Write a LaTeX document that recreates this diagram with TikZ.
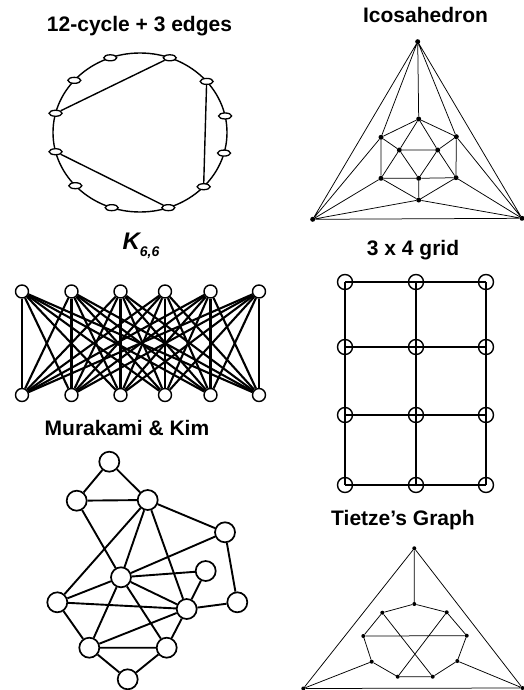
\documentclass[tikz,border=0pt]{standalone}
\usepackage{fontspec}
\setmainfont{Liberation Sans}
\usetikzlibrary{shapes.geometric}
\begin{document}
\begin{tikzpicture}[x=1pt,y=-1pt,
  title/.style={font=\bfseries\fontsize{21}{25}\selectfont, anchor=base, inner sep=0},
  cyc/.style={ellipse, draw, fill=white, line width=1.3pt, minimum width=13pt, minimum height=6pt, inner sep=0},
  dotv/.style={circle, fill=black, inner sep=0, minimum size=5pt},
  kv/.style={circle, draw, fill=white, line width=1.4pt, minimum size=13pt, inner sep=0},
  gv/.style={circle, draw, line width=1.4pt, minimum size=15pt, inner sep=0},
  mv/.style={circle, draw, fill=white, line width=1.7pt, minimum size=20pt, inner sep=0},
  thinedge/.style={line width=0.75pt},
  thickedge/.style={line width=1.9pt},
  kedge/.style={line width=2.1pt},
  cycedge/.style={line width=1.4pt}
]
\useasboundingbox (0,0) rectangle (524,690);

% ---------- 12-cycle + 3 edges ----------
\node[title] (t1) at (139.5,32) {12-cycle + 3 edges};
\draw[cycedge] (140,132.5) ellipse [x radius=87pt, y radius=79.5pt];
\foreach \i/\a in {1/110,2/70,3/40,4/12,5/-15,6/-43,7/-71,8/-109,9/-138,10/-166,11/166,12/139}
  \node[cyc] (c\i) at ({140+87*cos(\a)},{132.5-79.5*sin(\a)}) {};
\draw[cycedge] (c11) -- (c2) (c3) -- (c6) (c10) -- (c7);

% ---------- Icosahedron ----------
\node[title] (t2) at (425.5,22.5) {Icosahedron};
\node[dotv] (iT) at (417.7,41.7) {};
\node[dotv] (iBL) at (312.7,219.3) {};
\node[dotv] (iBR) at (522,218.3) {};
\node[dotv] (i1) at (418.7,119) {};
\node[dotv] (iUL) at (381,137.3) {};
\node[dotv] (iUR) at (456.3,136.7) {};
\node[dotv] (iLL) at (381,178.3) {};
\node[dotv] (iLR) at (456,177.7) {};
\node[dotv] (iB) at (418.7,200) {};
\node[dotv] (il) at (399.3,150) {};
\node[dotv] (ir) at (437.7,150) {};
\node[dotv] (ib) at (418.7,178.3) {};
\draw[thinedge] (iT) -- (iBL) (iT) -- (iBR) (iBL) -- (iBR)
  (iT) -- (i1) (iT) -- (iUL) (iT) -- (iUR)
  (iBL) -- (iUL) (iBL) -- (iLL) (iBL) -- (iB)
  (iBR) -- (iUR) (iBR) -- (iLR) (iBR) -- (iB)
  (i1) -- (iUL) (iUL) -- (iLL) (iLL) -- (iB) (iB) -- (iLR) (iLR) -- (iUR) (iUR) -- (i1)
  (il) -- (ir) (il) -- (ib) (ir) -- (ib)
  (i1) -- (il) (i1) -- (ir) (iUL) -- (il) (iLL) -- (il) (iUR) -- (ir) (iLR) -- (ir)
  (ib) -- (iLL) (ib) -- (iLR) (ib) -- (iB);

% ---------- K6,6 ----------
\node[title, font=\bfseries\itshape\fontsize{24}{28}\selectfont] (t3) at (141,249) {K\raisebox{-7pt}{\fontsize{14}{16}\selectfont 6,6}};
\foreach \i/\x in {1/22,2/71.5,3/120.5,4/165,5/210.5,6/259}{
  \node[kv] (kt\i) at (\x,291.5) {};
  \node[kv] (kb\i) at (\x,395) {};
}
\foreach \i in {1,...,6}
  \foreach \j in {1,...,6}
    \draw[kedge] (kt\i) -- (kb\j);

% ---------- 3 x 4 grid ----------
\node[title] (t4) at (413,255) {3 x 4 grid};
\foreach \r/\y in {1/282,2/347,3/415,4/485}
  \foreach \c/\x in {1/345,2/416,3/486}
    \node[gv] (g\r\c) at (\x,\y) {};
\foreach \r in {1,...,4}
  \draw[thickedge] (g\r1.center) -- (g\r2.center) -- (g\r3.center);
\foreach \c in {1,2,3}
  \draw[thickedge] (g1\c.center) -- (g2\c.center) -- (g3\c.center) -- (g4\c.center);

% ---------- Murakami & Kim ----------
\node[title] (t5) at (127,435.7) {Murakami \& Kim};
\node[mv] (ma) at (109.3,461.7) {};
\node[mv] (mb) at (76.7,500.7) {};
\node[mv] (mc) at (147.7,500) {};
\node[mv] (md) at (225,532.3) {};
\node[mv] (me) at (205.7,571) {};
\node[mv] (mf) at (121,577.3) {};
\node[mv] (mg) at (57.3,602.3) {};
\node[mv] (mh) at (186.7,609) {};
\node[mv] (mi) at (237.3,602.3) {};
\node[mv] (mj) at (89.3,647.7) {};
\node[mv] (mk) at (166.7,647.7) {};
\node[mv] (ml) at (127.7,679.3) {};
\draw[thickedge] (ma) -- (mb) (ma) -- (mc) (mb) -- (mc) (mb) -- (mf)
  (mc) -- (mg) (mc) -- (mf) (mc) -- (mh) (mc) -- (md)
  (md) -- (mf) (md) -- (mi)
  (mf) -- (me) (mf) -- (mg) (mf) -- (mh) (mf) -- (mj) (mf) -- (mk)
  (mg) -- (mh) (mg) -- (mj)
  (mh) -- (me) (mh) -- (mi) (mh) -- (mj) (mh) -- (mk)
  (mj) -- (mk) (mj) -- (ml) (mk) -- (ml);

% ---------- Tietze's Graph ----------
\node[title] (t6) at (403,525) {Tietze’s Graph};
\node[dotv, minimum size=4pt] (tT) at (414.3,548.3) {};
\node[dotv, minimum size=4pt] (tBL) at (303.3,688.5) {};
\node[dotv, minimum size=4pt] (tBR) at (522.5,688) {};
\node[dotv, minimum size=4pt] (tt) at (414.3,604) {};
\node[dotv, minimum size=4pt] (tul) at (382.3,612.7) {};
\node[dotv, minimum size=4pt] (tur) at (446.7,612.3) {};
\node[dotv, minimum size=4pt] (tml) at (363.3,636) {};
\node[dotv, minimum size=4pt] (tmr) at (466.7,635.7) {};
\node[dotv, minimum size=4pt] (tll) at (371.7,661.7) {};
\node[dotv, minimum size=4pt] (tlr) at (457.3,661) {};
\node[dotv, minimum size=4pt] (tbl) at (397.7,676.7) {};
\node[dotv, minimum size=4pt] (tbr) at (432.7,676.7) {};
\draw[thinedge] (tT) -- (tBL) (tT) -- (tBR) (tBL) -- (tBR)
  (tT) -- (tt) (tBL) -- (tll) (tBR) -- (tlr)
  (tt) -- (tul) (tul) -- (tml) (tml) -- (tll) (tll) -- (tbl) (tbl) -- (tbr)
  (tbr) -- (tlr) (tlr) -- (tmr) (tmr) -- (tur) (tur) -- (tt)
  (tml) -- (tmr) (tul) -- (tbr) (tur) -- (tbl);
\end{tikzpicture}
\end{document}
